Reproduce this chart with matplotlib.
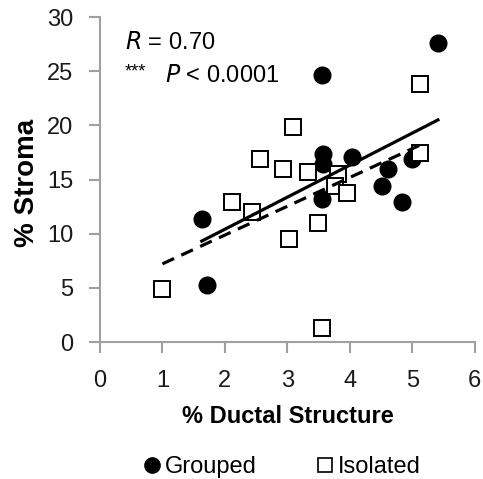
import matplotlib
matplotlib.use("Agg")
import matplotlib.pyplot as plt
import numpy as np

# --- data ---
grouped_x = [1.63, 1.72, 3.56, 5.41, 3.57, 3.57, 4.03, 3.55, 4.61, 4.51, 4.83, 4.99]
grouped_y = [11.4, 5.3, 24.7, 27.6, 17.4, 16.4, 17.1, 13.2, 16.0, 14.4, 12.9, 16.9]

isolated_x = [1.00, 2.11, 2.43, 2.56, 3.03, 2.93, 3.09, 3.33, 3.49, 3.55, 3.81, 3.76, 3.96, 5.12, 5.12]
isolated_y = [4.9, 12.9, 12.0, 16.9, 9.5, 16.0, 19.9, 15.7, 11.0, 1.3, 15.5, 14.4, 13.8, 17.5, 23.8]

# trend lines (slope, intercept) as drawn
fit_grouped = (2.96, 4.50)
fit_isolated = (2.66, 4.56)

plt.rcParams["font.family"] = ["Liberation Sans", "DejaVu Sans"]
AXIS_GRAY = "#a0a0a0"
FS = 17

fig = plt.figure(figsize=(4.83, 4.79), dpi=100)
ax = fig.add_axes([0.207, 0.286, 0.776, 0.678])

ax.plot(grouped_x, grouped_y, "o", ms=12, color="black", zorder=3)
ax.plot(isolated_x, isolated_y, "s", ms=11.5, mfc="white", mec="black", mew=1.4, zorder=3)

# regression lines over each group's x range
for (m, b), xs, ls in [(fit_grouped, grouped_x, "-"), (fit_isolated, isolated_x, (0, (4, 2.5)))]:
    xx = np.array([min(xs), max(xs)])
    ax.plot(xx, m * xx + b, color="black", lw=2.3, linestyle=ls, zorder=4)

ax.set_xlim(0, 6)
ax.set_ylim(0, 30)
ax.set_xticks(range(0, 7))
ax.set_yticks(range(0, 31, 5))

for side in ["top", "right"]:
    ax.spines[side].set_visible(False)
for side in ["left", "bottom"]:
    ax.spines[side].set_color(AXIS_GRAY)
    ax.spines[side].set_linewidth(1.5)
ax.tick_params(colors=AXIS_GRAY, width=1.5, length=8, labelsize=FS, labelcolor="#1a1a1a")
ax.tick_params(axis="x", pad=12)
ax.tick_params(axis="y", pad=11)

ax.set_xlabel("% Ductal Structure", fontsize=FS, fontweight="bold")
ax.xaxis.set_label_coords(0.5, -0.195)
ax.set_ylabel("% Stroma", fontsize=20, fontweight="bold")
ax.yaxis.set_label_coords(-0.16, 0.49)

ax.text(0.4, 27.6, r"$\it{R}$ = 0.70", fontsize=FS, va="center", ha="left")
ax.text(0.4, 24.9, "***", fontsize=13, va="center", ha="left")
ax.text(1.04, 24.6, r"$\it{P}$ < 0.0001", fontsize=FS, va="center", ha="left")

fig.legend(handles=[
    plt.Line2D([], [], marker="o", ls="none", color="black", ms=11),
    plt.Line2D([], [], marker="s", ls="none", mfc="white", mec="black", mew=1.2, ms=10.5)],
    labels=["Grouped", "Isolated"], loc="center", bbox_to_anchor=(0.581, 0.025),
    ncol=2, frameon=False, fontsize=FS, handletextpad=0.05, columnspacing=2.4,
    handlelength=1.0)

fig.savefig("out.png", dpi=100)
